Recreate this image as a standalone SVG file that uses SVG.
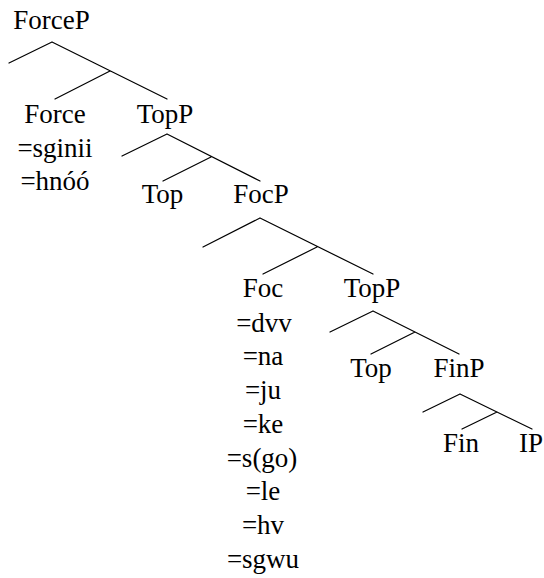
<svg xmlns="http://www.w3.org/2000/svg" width="544" height="578" viewBox="0 0 544 578">
<style>
text{font-size:27px;fill:#000;text-anchor:middle}
.e{stroke:#000;stroke-width:1.2;fill:none;stroke-linecap:round}
</style>
<rect width="544" height="578" fill="#fff"/>
<g id="connectors">
<path class="e" d="M52,42L9,63M52,42L167,99M110,71L55,99"/>
<path class="e" d="M167,134L122,156M167,134L260,181M211,157L163,181"/>
<path class="e" d="M260,218L203,247M260,218L373,274M317,247L263,274"/>
<path class="e" d="M373,311L330,332M373,311L459,354M415,332L371,354"/>
<path class="e" d="M460,394L423,412M460,394L532,429M497,412L462,429"/>
</g>
<g id="ForceP"><text x="51.5" y="29" font-family="Liberation Serif, Tinos, Times New Roman, Noto Serif, DejaVu Serif, serif">ForceP</text></g>
<g id="Force"><text x="55" y="123" font-family="Liberation Serif, Tinos, Times New Roman, Noto Serif, DejaVu Serif, serif">Force</text><text x="55" y="156.5" font-family="Liberation Serif, Tinos, Times New Roman, Noto Serif, DejaVu Serif, serif">=sginii</text><text x="55" y="190" font-family="Liberation Serif, Tinos, Times New Roman, Noto Serif, DejaVu Serif, serif">=hnóó</text></g>
<g id="TopP1"><text x="165" y="123" font-family="Liberation Serif, Tinos, Times New Roman, Noto Serif, DejaVu Serif, serif">TopP</text></g>
<g id="Top1"><text x="162.5" y="203" font-family="Liberation Serif, Tinos, Times New Roman, Noto Serif, DejaVu Serif, serif">Top</text></g>
<g id="FocP"><text x="261" y="203" font-family="Liberation Serif, Tinos, Times New Roman, Noto Serif, DejaVu Serif, serif">FocP</text></g>
<g id="Foc"><text x="263" y="297" font-family="Liberation Serif, Tinos, Times New Roman, Noto Serif, DejaVu Serif, serif">Foc</text><text x="264" y="331.7" font-family="Liberation Serif, Tinos, Times New Roman, Noto Serif, DejaVu Serif, serif">=dvv</text><text x="263" y="365.4" font-family="Liberation Serif, Tinos, Times New Roman, Noto Serif, DejaVu Serif, serif">=na</text><text x="263" y="399.1" font-family="Liberation Serif, Tinos, Times New Roman, Noto Serif, DejaVu Serif, serif">=ju</text><text x="263" y="432.8" font-family="Liberation Serif, Tinos, Times New Roman, Noto Serif, DejaVu Serif, serif">=ke</text><text x="262" y="466.5" font-family="Liberation Serif, Tinos, Times New Roman, Noto Serif, DejaVu Serif, serif">=s(go)</text><text x="263" y="500.2" font-family="Liberation Serif, Tinos, Times New Roman, Noto Serif, DejaVu Serif, serif">=le</text><text x="263" y="533.9" font-family="Liberation Serif, Tinos, Times New Roman, Noto Serif, DejaVu Serif, serif">=hv</text><text x="263" y="567.6" font-family="Liberation Serif, Tinos, Times New Roman, Noto Serif, DejaVu Serif, serif">=sgwu</text></g>
<g id="TopP2"><text x="372" y="297" font-family="Liberation Serif, Tinos, Times New Roman, Noto Serif, DejaVu Serif, serif">TopP</text></g>
<g id="Top2"><text x="371" y="377" font-family="Liberation Serif, Tinos, Times New Roman, Noto Serif, DejaVu Serif, serif">Top</text></g>
<g id="FinP"><text x="459" y="377" font-family="Liberation Serif, Tinos, Times New Roman, Noto Serif, DejaVu Serif, serif">FinP</text></g>
<g id="Fin"><text x="461" y="452" font-family="Liberation Serif, Tinos, Times New Roman, Noto Serif, DejaVu Serif, serif">Fin</text></g>
<g id="IP"><text x="531" y="452" font-family="Liberation Serif, Tinos, Times New Roman, Noto Serif, DejaVu Serif, serif">IP</text></g>
</svg>
